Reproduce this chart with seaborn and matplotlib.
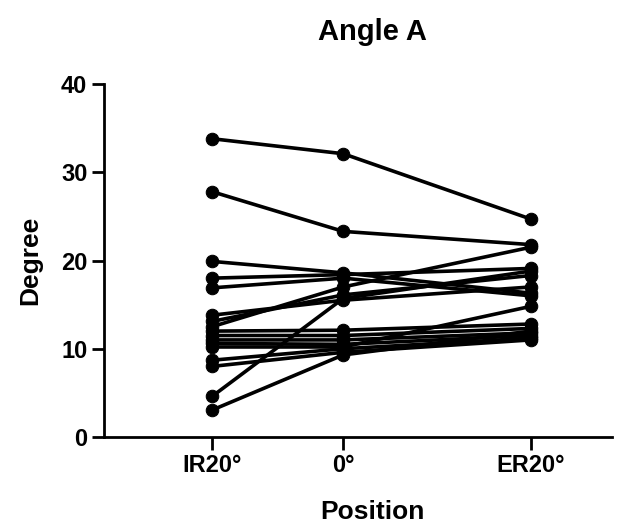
import matplotlib
matplotlib.use("Agg")
import matplotlib.pyplot as plt
import seaborn as sns
import pandas as pd

# ---- data ----
positions = ["IR20°", "0°", "ER20°"]
ir20 = [33.8, 27.8, 19.9, 18.0, 16.9, 13.8, 13.1, 12.5, 12.0, 11.5, 11.0, 10.6, 10.2, 8.7, 8.0, 4.6, 3.05]
deg0 = [32.1, 23.3, 18.6, 18.4, 18.0, 15.5, 16.1, 17.0, 12.1, 11.5, 11.0, 10.5, 10.2, 10.0, 9.6, 15.7, 9.3]
er20 = [24.7, 21.8, 16.3, 19.1, 16.0, 17.0, 18.3, 21.5, 12.8, 12.3, 11.8, 11.5, 14.8, 11.2, 11.0, 18.8, 12.0]
yticks = [0, 10, 20, 30, 40]

# ---- layout (x placement of the categories on the axis) ----
xpos = [0.0, 1.0, 2.43]

rows = []
for series, xp in zip([ir20, deg0, er20], xpos):
    for sid, v in enumerate(series):
        rows.append({"subject": sid, "x": xp, "Degree": v})
df = pd.DataFrame(rows)

sns.set_theme(style="ticks")
plt.rcParams["font.family"] = ["Liberation Sans", "DejaVu Sans"]
plt.rcParams["font.weight"] = "bold"
plt.rcParams["text.color"] = "black"
plt.rcParams["xtick.color"] = "black"
plt.rcParams["ytick.color"] = "black"

fig = plt.figure(figsize=(6.28, 5.30), dpi=100)
ax = fig.add_axes([104/628, (530-437)/530, (612-104)/628, (437-84)/530])

sns.lineplot(data=df, x="x", y="Degree", units="subject", estimator=None,
             color="black", linewidth=2.6, marker="o", markersize=9,
             markeredgecolor="black", markerfacecolor="black", ax=ax,
             legend=False, clip_on=False)

ax.set_xlim(-0.824, 3.05)
ax.set_ylim(0, 40)
ax.set_xticks(xpos)
ax.set_xticklabels(positions)
ax.set_yticks(yticks)
ax.set_xlabel("")
ax.set_ylabel("")
for s in ["top", "right"]:
    ax.spines[s].set_visible(False)
for s in ["left", "bottom"]:
    ax.spines[s].set_linewidth(2.0)
    ax.spines[s].set_color("black")
ax.tick_params(axis="both", length=9, width=2.0, color="black",
               labelcolor="black", labelsize=17, pad=3)
for lab in ax.get_xticklabels() + ax.get_yticklabels():
    lab.set_fontweight("bold")

fig.text(372/628, 1 - 32/530, "Angle A", ha="center", va="center",
         fontsize=21, fontweight="bold", color="black")
fig.text(30/628, 1 - 260/530, "Degree", ha="center", va="center",
         rotation=90, fontsize=19, fontweight="bold", color="black")
fig.text(372/628, 1 - 512/530, "Position", ha="center", va="center",
         fontsize=19, fontweight="bold", color="black")

fig.savefig("out.png", dpi=100, facecolor="white")
